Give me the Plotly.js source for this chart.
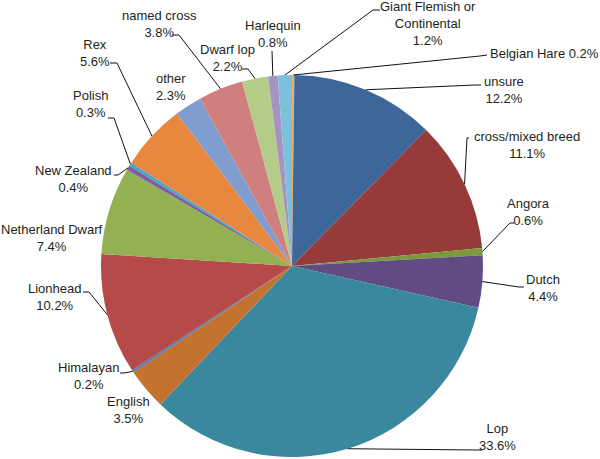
<!DOCTYPE html>
<html>
<head>
<meta charset="utf-8">
<script src="https://cdn.plot.ly/plotly-3.0.1.min.js"></script>
<style>
  html, body { margin: 0; padding: 0; background: #fff; }
  #breed-pie { width: 600px; height: 459px; }
</style>
</head>
<body>
<div id="breed-pie"></div>
<script>
// breeds, clockwise from 12 o'clock
const breeds = ['Belgian Hare', 'unsure', 'cross/mixed breed', 'Angora', 'Dutch', 'Lop',
    'English', 'Himalayan', 'Lionhead', 'Netherland Dwarf', 'New Zealand', 'Polish',
    'Rex', 'other', 'named cross', 'Dwarf lop', 'Harlequin', 'Giant Flemish or Continental'];
const percents = [0.2, 12.2, 11.1, 0.6, 4.4, 33.6, 3.5, 0.2, 10.2, 7.4, 0.4, 0.3,
    5.6, 2.3, 3.8, 2.2, 0.8, 1.2];

const sliceColors = ['#F5A96B', '#3D6699', '#963B3A', '#7A9A3C', '#604B82', '#3A889D',
    '#C4722F', '#4A7EBB', '#B54B49', '#93B152', '#7D5F9F', '#48A7C3',
    '#E8873E', '#7F9DCF', '#CF7F7E', '#B3CD89', '#A594C2', '#7CC1D9'];

// pie geometry in px (page is 600 x 459, no margins)
const W = 600, H = 459;
const CX = 292, CY = 266, R = 191;

// where each label sits, and where its leader line meets it (px)
const labelPos = [[544, 53], [504, 90], [527, 145], [528, 212], [543, 288], [497, 437],
    [128, 410], [88, 376], [55, 297], [52, 238], [73, 179], [90, 104],
    [95, 53], [171, 87], [159, 24], [227, 58], [273, 34], [428, 23]];
const leaderTail = [[487, 55], [481, 85], [469, 138], [514, 223], [524, 287], [482, 450],
    null, [120, 373], [83, 292], null, [114, 175], [108, 118],
    [110, 63], null, [172, 35], [242, 69], [272, 51], [380, 10]];
const leaderElbow = [[480, 56], [475, 85], [467, 138], [510, 223], [519, 287], [478, 450],
    null, [124, 373], [89, 292], null, [118, 175], [114, 118],
    [117, 63], null, [179, 35], [248, 69], [272, 51], [373, 10]];

function px(x) { return x / W; }
function py(y) { return 1 - y / H; }

var total = percents.reduce((a, b) => a + b, 0);

var annotations = [];
var shapes = [];
var cum = 0;
for (let i = 0; i < breeds.length; i++) {
    var mid = (cum + percents[i] / 2) / total * 2 * Math.PI;
    cum += percents[i];

    var name = breeds[i].replace('Flemish or ', 'Flemish or<br>');
    var sep = (breeds[i] === 'Belgian Hare') ? ' ' : '<br>';
    annotations.push({
        x: px(labelPos[i][0]), y: py(labelPos[i][1]),
        xref: 'paper', yref: 'paper',
        xanchor: 'center', yanchor: 'middle',
        text: name + sep + percents[i].toFixed(1) + '%',
        showarrow: false,
        align: 'center',
        font: { family: 'Liberation Sans, Arial, sans-serif', size: 13, color: '#231F20' }
    });

    if (leaderTail[i]) {
        // slice edge at the middle of the slice
        var ex = CX + R * Math.sin(mid);
        var ey = CY - R * Math.cos(mid);
        var t = leaderTail[i], e = leaderElbow[i];
        shapes.push({
            type: 'path', xref: 'paper', yref: 'paper',
            path: 'M ' + px(ex) + ',' + py(ey) +
                  ' L ' + px(e[0]) + ',' + py(e[1]) +
                  ' L ' + px(t[0]) + ',' + py(t[1]),
            line: { color: '#111', width: 1 }
        });
    }
}

var trace = {
    type: 'pie',
    labels: breeds,
    values: percents,
    sort: false,
    direction: 'clockwise',
    rotation: 0,
    textinfo: 'none',
    hoverinfo: 'none',
    marker: { colors: sliceColors, line: { width: 0 } },
    domain: { x: [px(CX - R), px(CX + R)], y: [py(CY + R), py(CY - R)] },
    showlegend: false
};

var layout = {
    width: W, height: H,
    margin: { l: 0, r: 0, t: 0, b: 0 },
    paper_bgcolor: '#fff',
    showlegend: false,
    annotations: annotations,
    shapes: shapes
};

Plotly.newPlot('breed-pie', [trace], layout, { staticPlot: true });
</script>
</body>
</html>
